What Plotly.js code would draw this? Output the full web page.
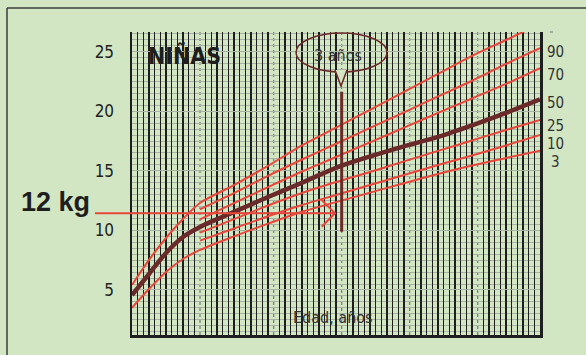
<!DOCTYPE html>
<html><head><meta charset="utf-8">
<script src="https://cdn.plot.ly/plotly-3.0.1.min.js"></script>
<style>html,body{margin:0;padding:0;background:#d3e6c4;}#chart{width:586px;height:355px;}</style>
</head><body><div id="chart"></div>
<script>
// ---- data (age in months, weight in kg) ----
const agesFull = [0,3,6,9,12,18,24,30,36,42,48,54,60,66,72];
const agesFrom1 = [12,18,24,30,36,42,48,54,60,66,72];
const p97 = [5.42,7.52,9.36,10.96,12.30,13.80,15.42,17.13,18.63,20.12,21.63,23.13,24.64,25.98,27.33];
const p90 = [11.77,13.12,14.58,15.95,17.27,18.60,19.91,21.24,22.56,23.97,25.29];
const p70 = [10.93,12.29,13.63,14.94,16.16,17.39,18.62,19.86,21.07,22.29,23.61];
const p50 = [4.58,6.34,8.11,9.45,10.29,11.55,12.80,14.00,15.25,16.20,17.05,17.84,18.81,19.86,20.99];
const p25 = [9.81,10.95,12.09,13.14,14.06,14.90,15.79,16.67,17.55,18.43,19.27];
const p10 = [9.14,10.16,11.19,12.13,12.97,13.81,14.65,15.49,16.29,17.13,18.01];
const p3  = [3.51,5.08,6.51,7.60,8.36,9.50,10.57,11.57,12.37,13.17,13.96,14.74,15.45,16.08,16.69];
const pctLabels = ['90','70','50','25','10','3'];
const yTicks = [5,10,15,20,25];
const yearLines = [12,25,37,49,61];
const markerAge = 37;
const markerKgRange = [9.89, 21.64];
const titleText = 'NIÑAS';
const weightText = '12 kg';
const ageText = '3 años';
const xTitle = 'Edad, años';

// ---- style / geometry ----
const BG = '#d3e6c4';
const RED = '#e8473b';
const BROWN = '#6b2a2a';
const INK = '#1e1e1e';
const COND = '"Liberation Sans Narrow","DejaVu Sans Condensed","Roboto Condensed",sans-serif';
const L = 132, R = 540, T = 32, B = 335;
const W = 586, H = 355;
const P = x => (x - L) / (R - L);
const Q = y => (B - y) / (B - T);
const pctLabelY = [52, 75, 103, 126, 144, 162];

const monthGrid = [];
for (let m = 1; m < 72; m++) if (!yearLines.includes(m)) monthGrid.push(m);

const redLine = {color: RED, width: 2, shape: 'spline', smoothing: 0.8};
const traces = [
  {x: agesFull, y: p97, mode: 'lines', line: redLine},
  {x: agesFrom1, y: p90, mode: 'lines', line: redLine},
  {x: agesFrom1, y: p70, mode: 'lines', line: redLine},
  {x: agesFrom1, y: p25, mode: 'lines', line: redLine},
  {x: agesFrom1, y: p10, mode: 'lines', line: redLine},
  {x: agesFull, y: p3, mode: 'lines', line: redLine},
  {x: agesFull, y: p50, mode: 'lines', line: {color: BROWN, width: 4.5, shape: 'spline', smoothing: 0.8}}
];

const shapes = [];
yearLines.forEach(m => shapes.push({type: 'line', xref: 'x', yref: 'paper', x0: m, x1: m, y0: 0, y1: 1,
  line: {color: '#6f7a78', width: 1.2, dash: 'dot'}, layer: 'below'}));
// outer frame
shapes.push({type: 'line', xref: 'paper', yref: 'paper', x0: P(7), x1: P(586), y0: Q(8), y1: Q(8), line: {color: '#3c3c3c', width: 1.5}});
shapes.push({type: 'line', xref: 'paper', yref: 'paper', x0: P(7), x1: P(7), y0: Q(8), y1: Q(355), line: {color: '#3c3c3c', width: 1.5}});
// marker line at 3 years
shapes.push({type: 'line', xref: 'x', yref: 'y', x0: markerAge, x1: markerAge, y0: markerKgRange[0], y1: markerKgRange[1], line: {color: BROWN, width: 3}});
// speech ellipse
shapes.push({type: 'circle', xref: 'paper', yref: 'paper', x0: P(296), x1: P(387), y0: Q(72), y1: Q(33), line: {color: BROWN, width: 1.5}});
shapes.push({type: 'path', xref: 'paper', yref: 'paper',
  path: `M${P(335)},${Q(70)} L${P(341)},${Q(86)} L${P(347)},${Q(70)}`,
  fillcolor: BG, line: {color: BROWN, width: 1.5}});
// arrow
shapes.push({type: 'path', xref: 'paper', yref: 'paper',
  path: `M${P(95)},${Q(213.3)} L${P(335)},${Q(213.3)} M${P(321.7)},${Q(200)} L${P(335)},${Q(213.3)} L${P(321.7)},${Q(226.7)}`,
  line: {color: RED, width: 2}});
// small mark at top right
shapes.push({type: 'line', xref: 'paper', yref: 'paper', x0: P(550), x1: P(553), y0: Q(32), y1: Q(32), line: {color: '#777', width: 1}});

const annotations = [
  {text: titleText, xref: 'paper', yref: 'paper', x: P(146), y: Q(56), xanchor: 'left', yanchor: 'middle', showarrow: false,
   font: {family: COND, size: 23, color: INK, weight: 'bold'}},
  {text: weightText, xref: 'paper', yref: 'paper', x: P(19), y: Q(202), xanchor: 'left', yanchor: 'middle', showarrow: false,
   font: {family: '"Liberation Sans",Arial,sans-serif', size: 27, color: INK, weight: 'bold'}},
  {text: ageText, xref: 'paper', yref: 'paper', x: P(338), y: Q(55), xanchor: 'center', yanchor: 'middle', showarrow: false,
   font: {family: COND, size: 16, color: '#333'}},
  {text: xTitle, xref: 'paper', yref: 'paper', x: P(291), y: Q(317), xanchor: 'left', yanchor: 'middle', showarrow: false,
   font: {family: COND, size: 16, color: '#333'}}
];
pctLabels.forEach((t, i) => annotations.push({text: t, xref: 'paper', yref: 'paper', x: P(555), y: Q(pctLabelY[i]),
  xanchor: 'center', yanchor: 'middle', showarrow: false, font: {family: COND, size: 15, color: '#333'}}));

const layout = {
  width: W, height: H,
  margin: {l: L, r: W - R, t: T, b: H - B, pad: 0},
  paper_bgcolor: BG, plot_bgcolor: BG,
  showlegend: false,
  xaxis: {range: [0, 72], tickvals: monthGrid, showticklabels: false, ticks: '', showgrid: true,
    gridcolor: INK, gridwidth: 1.2, zeroline: false, showline: true, linecolor: INK, linewidth: 2.5, mirror: false, fixedrange: true},
  yaxis: {range: [1.22, 26.65], tickvals: yTicks, ticktext: yTicks.map(String), ticks: 'outside', ticklen: 12, tickcolor: 'rgba(0,0,0,0)',
    showgrid: true, gridcolor: '#a9b3a4', gridwidth: 1, zeroline: false,
    minor: {dtick: 0.5, showgrid: true, gridcolor: '#a9b3a4', gridwidth: 1, ticks: ''},
    showline: true, linecolor: INK, linewidth: 2.5, mirror: true,
    tickfont: {family: COND, size: 17, color: '#222'}, fixedrange: true},
  shapes: shapes,
  annotations: annotations
};
Plotly.newPlot('chart', traces, layout, {staticPlot: true, displayModeBar: false});
</script>
</body></html>
